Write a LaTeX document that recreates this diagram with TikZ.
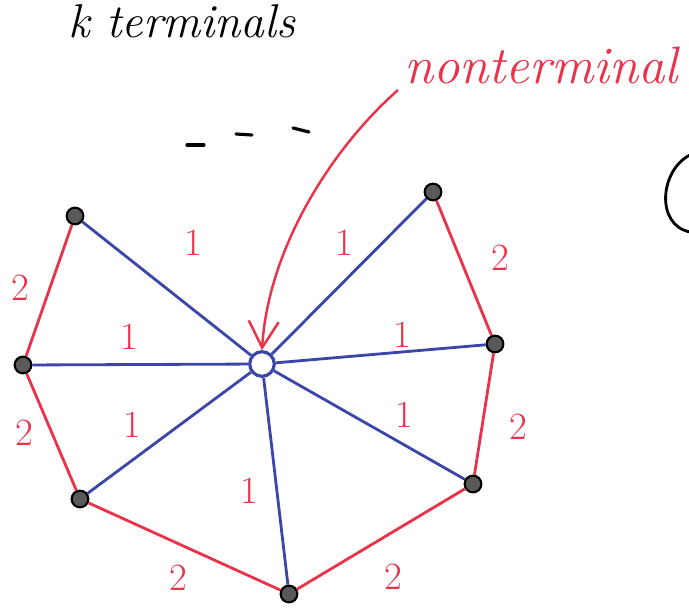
\documentclass[tikz,border=0pt]{standalone}
\usepackage{tikz}
\usetikzlibrary{arrows.meta}
\definecolor{penred}{HTML}{E8334A}
\definecolor{penblue}{HTML}{3A46A8}
\tikzset{
  term/.style={circle,draw=black,fill=black!65,line width=1.2pt,minimum size=9.5pt,inner sep=0pt},
  hubnode/.style={circle,draw=penblue,fill=white,line width=1.8pt,minimum size=14pt,inner sep=0pt},
  spoke/.style={penblue,line width=1.6pt},
  rim/.style={penred,line width=1.6pt},
  wt/.style={penred,font=\fontsize{22}{22}\selectfont},
}
\newcommand{\gapdashes}{%
  \draw[line width=1.8pt,line cap=round] (187,145) -- (204,145);
  \draw[line width=1.8pt,line cap=round] (236,134) -- (252,135);
  \draw[line width=1.8pt,line cap=round] (293,128) -- (309,132);
}

\begin{document}
\begin{tikzpicture}[x=0.02cm,y=-0.02cm]
\useasboundingbox (0,0) rectangle (689,611);
\clip (0,0) rectangle (689,611);
% terminals and the nonterminal
\node[hubnode] (hub) at (262,364) {};
\node[term] (tNW) at (75,216) {};
\node[term] (tNE) at (433,192) {};
\node[term] (tE) at (495,344) {};
\node[term] (tSE) at (473,484) {};
\node[term] (tS) at (289,594) {};
\node[term] (tSW) at (80,499) {};
\node[term] (tW) at (23,365) {};
% spokes
\draw[spoke] (hub) -- (tNW);
\draw[spoke] (hub) -- (tNE);
\draw[spoke] (hub) -- (tE);
\draw[spoke] (hub) -- (tSE);
\draw[spoke] (hub) -- (tS);
\draw[spoke] (hub) -- (tSW);
\draw[spoke] (hub) -- (tW);
% rim
\draw[rim] (tNW) -- (tW);
\draw[rim] (tW) -- (tSW);
\draw[rim] (tSW) -- (tS);
\draw[rim] (tS) -- (tSE);
\draw[rim] (tSE) -- (tE);
\draw[rim] (tE) -- (tNE);
% weights
\node[wt] (wNW) at (193,243) {1};
\node[wt] (wNE) at (344,243) {1};
\node[wt] (wW) at (129,337) {1};
\node[wt] (wE) at (402,335) {1};
\node[wt] (wSW) at (132,425) {1};
\node[wt] (wSE) at (404,415) {1};
\node[wt] (wS) at (249,491) {1};
\node[wt] (rNW) at (20,288) {2};
\node[wt] (rSW) at (24,433) {2};
\node[wt] (rS) at (178,578) {2};
\node[wt] (rSE) at (393,577) {2};
\node[wt] (rE) at (518,427) {2};
\node[wt] (rNE) at (500,258) {2};
% labels
\node[anchor=base west,inner sep=0pt,font=\fontsize{27}{27}\selectfont\itshape] (kterm) at (68,38) {k terminals};
\node[anchor=base west,penred,font=\fontsize{30}{30}\selectfont\itshape] (ntlab) at (398,84) {nonterminal};
\coordinate (ntfoot) at (398,90);
\draw[penred,line width=1.4pt,-{Straight Barb[length=15pt,width=17pt,line width=1.4pt]}]
  (ntfoot) .. controls (330,150) and (268,250) .. (hub.north);
\gapdashes
\draw[line width=1.6pt] (690,155) .. controls (660,170) and (655,225) .. (690,232);
\end{tikzpicture}
\end{document}
